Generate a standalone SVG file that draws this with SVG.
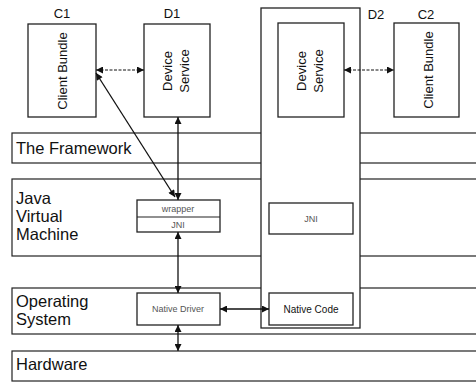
<svg xmlns="http://www.w3.org/2000/svg" width="476" height="382" viewBox="0 0 476 382">
<style>
.band{fill:#fff;stroke:#222;stroke-width:1.2}
.box{fill:#fff;stroke:#222;stroke-width:1.3}
.lbl{font-family:"Liberation Sans",Arial,sans-serif;font-size:16.5px;fill:#111}
.nm{font-family:"Liberation Sans",Arial,sans-serif;font-size:13px;fill:#111;text-anchor:middle}
.sm{font-family:"Liberation Sans",Arial,sans-serif;font-size:9px;fill:#555;text-anchor:middle}
.con{stroke:#111;stroke-width:1.3;fill:none;marker-start:url(#ah);marker-end:url(#ah)}
.dot{stroke-dasharray:3 1.5;stroke-width:1}
</style>
<defs>
<marker id="ah" viewBox="0 0 10 10" refX="10" refY="5" markerWidth="8" markerHeight="7" markerUnits="userSpaceOnUse" orient="auto-start-reverse">
<path d="M0,0 L10,5 L0,10 z" fill="#111"/>
</marker>
</defs>
<g id="bands">
<g id="framework"><rect class="band" x="12" y="133" width="470" height="30"/><text class="lbl" x="16" y="154">The Framework</text></g>
<g id="jvm"><rect class="band" x="12" y="179" width="470" height="77"/><text class="lbl" x="16" y="204">Java</text><text class="lbl" x="16" y="222">Virtual</text><text class="lbl" x="16" y="240">Machine</text></g>
<g id="os"><rect class="band" x="12" y="288" width="470" height="46"/><text class="lbl" x="16" y="307">Operating</text><text class="lbl" x="16" y="325">System</text></g>
<g id="hardware"><rect class="band" x="12" y="351" width="470" height="30"/><text class="lbl" x="16" y="370">Hardware</text></g>
</g>
<g id="D2">
<rect class="box" x="261" y="8" width="99" height="320"/>
<text class="nm" x="376" y="19">D2</text>
</g>
<g id="C1">
<rect class="box" x="28" y="24" width="68" height="93"/>
<text class="nm" x="62" y="18">C1</text>
<text class="nm" transform="translate(62,71) rotate(-90)" y="4.5">Client Bundle</text>
</g>
<g id="D1">
<rect class="box" x="144" y="24" width="66" height="93"/>
<text class="nm" x="172" y="18">D1</text>
<text class="nm" transform="translate(177,71) rotate(-90)" y="-5">Device</text>
<text class="nm" transform="translate(177,71) rotate(-90)" y="12">Service</text>
</g>
<g id="D2-service">
<rect class="box" x="278" y="23" width="66" height="94"/>
<text class="nm" transform="translate(311,71) rotate(-90)" y="-5">Device</text>
<text class="nm" transform="translate(311,71) rotate(-90)" y="12">Service</text>
</g>
<g id="C2">
<rect class="box" x="394" y="23" width="65" height="94"/>
<text class="nm" x="426" y="19">C2</text>
<text class="nm" transform="translate(428,70) rotate(-90)" y="4.5">Client Bundle</text>
</g>
<g id="wrapper">
<rect class="box" x="137" y="200" width="83" height="32"/>
<line x1="137" y1="217" x2="220" y2="217" stroke="#222" stroke-width="1.2"/>
<text class="sm" x="178" y="212">wrapper</text>
<text class="sm" x="178" y="228">JNI</text>
</g>
<g id="D2-jni">
<rect class="box" x="269" y="203" width="84" height="31"/>
<text class="sm" x="311" y="222">JNI</text>
</g>
<g id="native-driver">
<rect class="box" x="137" y="293" width="83" height="32"/>
<text class="sm" x="178" y="312">Native Driver</text>
</g>
<g id="native-code">
<rect class="box" x="269" y="293" width="84" height="32"/>
<text class="sm" x="311" y="313" style="fill:#111;font-size:10px">Native Code</text>
</g>
<g id="connectors">
<line class="con dot" x1="96" y1="70" x2="144" y2="70"/>
<line class="con dot" x1="344" y1="70" x2="394" y2="70"/>
<line class="con" x1="178" y1="117" x2="178" y2="200"/>
<line class="con" x1="178" y1="232" x2="178" y2="293"/>
<line class="con" x1="178" y1="325" x2="178" y2="351"/>
<line class="con" x1="96" y1="73" x2="175" y2="197"/>
<line class="con" x1="220" y1="309" x2="269" y2="309"/>
</g>
</svg>
